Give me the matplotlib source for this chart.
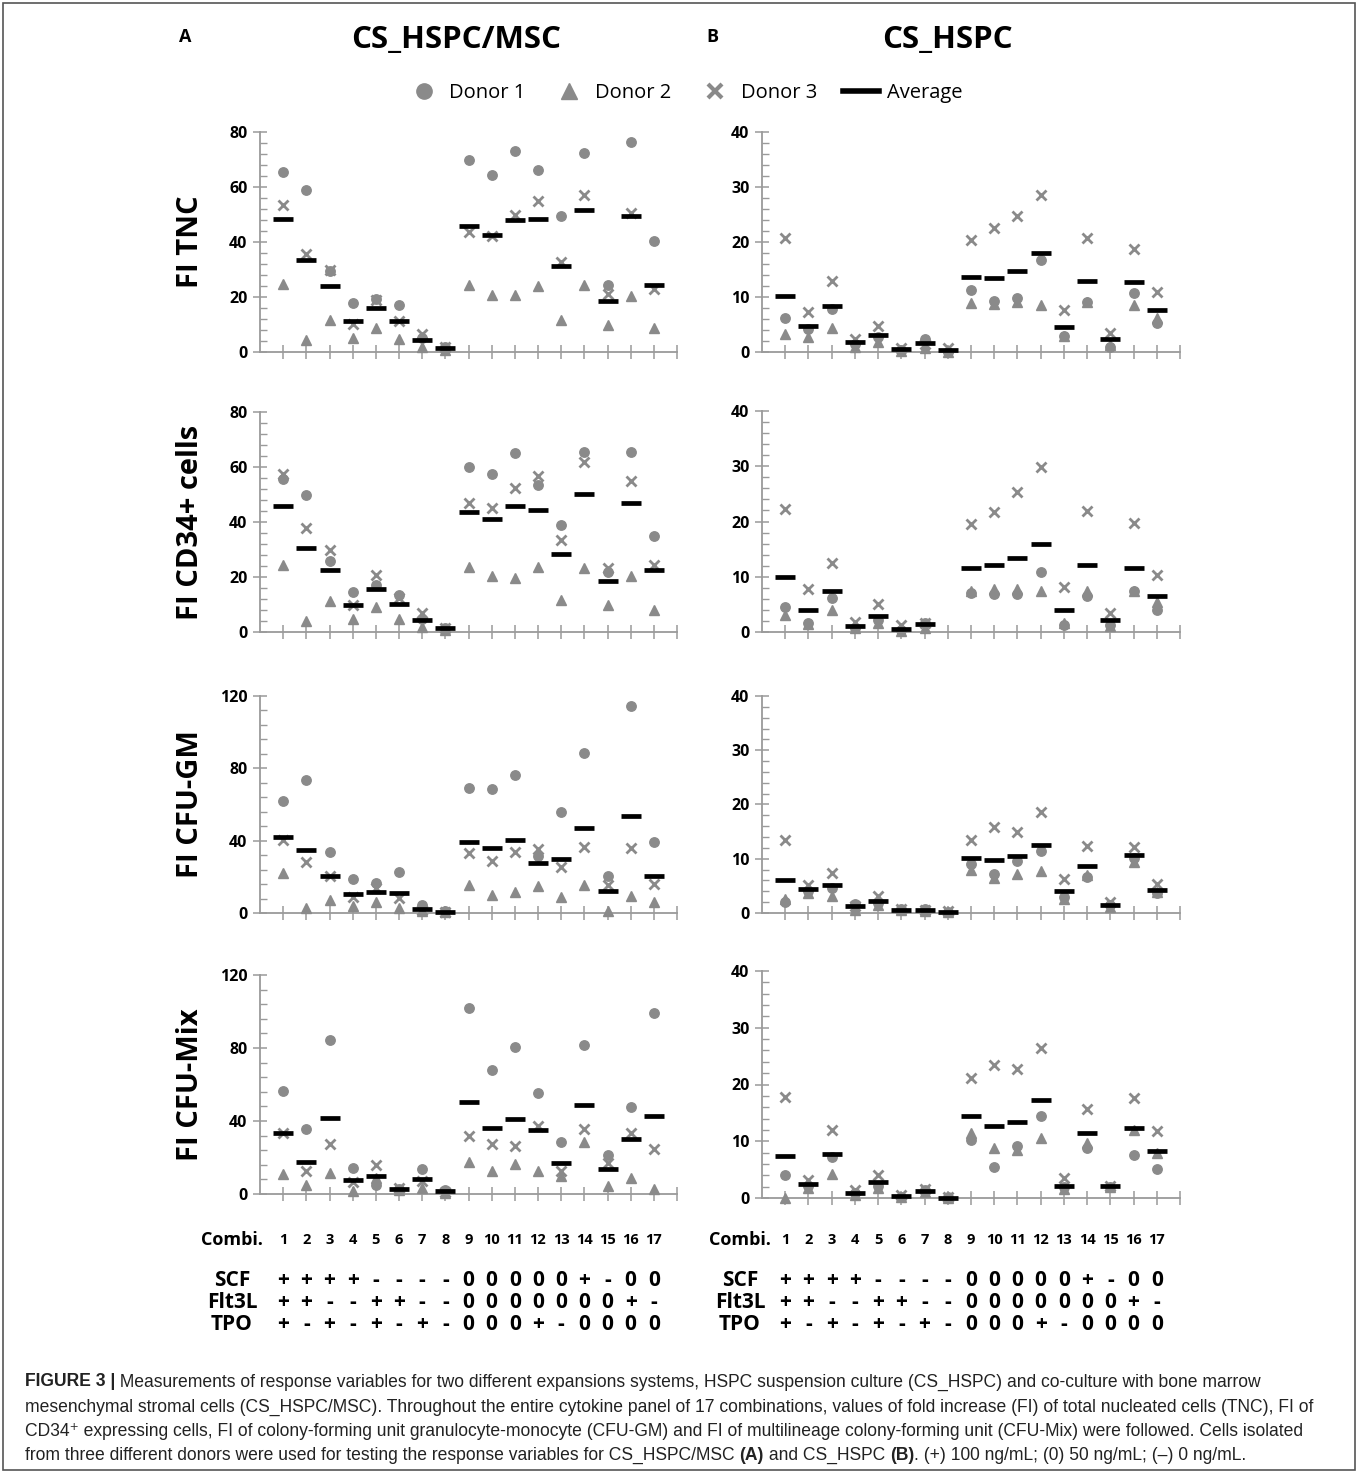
import numpy as np
import matplotlib
matplotlib.use("Agg")
import matplotlib.pyplot as plt
from matplotlib.lines import Line2D
from matplotlib.patches import Rectangle
from matplotlib.ticker import MultipleLocator
import matplotlib.transforms as mtransforms

# ---------------- data ----------------
combi = [str(i) for i in range(1, 18)]
scf   = ['+', '+', '+', '+', '-', '-', '-', '-', '0', '0', '0', '0', '0', '+', '-', '0', '0']
flt3l = ['+', '+', '-', '-', '+', '+', '-', '-', '0', '0', '0', '0', '0', '0', '0', '+', '-']
tpo   = ['+', '-', '+', '-', '+', '-', '+', '-', '0', '0', '0', '+', '-', '0', '0', '0', '0']

# (A) CS_HSPC/MSC  -- FI TNC
tnc_msc_d1  = [65.5, 58.9, 29.5, 17.7, 19.4, 17.1, 5.0, 2.0, 69.9, 64.4, 73.2, 66.2, 49.3, 72.5, 24.2, 76.4, 40.5]
tnc_msc_d2  = [24.7, 4.5, 11.8, 5.2, 8.7, 4.8, 2.0, 0.8, 24.2, 20.7, 20.6, 23.9, 11.8, 24.2, 9.9, 20.2, 8.7]
tnc_msc_d3  = [53.6, 35.6, 29.7, 10.2, 19.0, 11.4, 6.7, 1.7, 43.5, 42.3, 49.8, 54.8, 32.6, 57.2, 21.2, 50.5, 22.9]
tnc_msc_avg = [48.4, 33.3, 23.9, 11.2, 15.9, 11.3, 4.5, 1.6, 45.9, 42.7, 48.1, 48.4, 31.4, 51.6, 18.7, 49.3, 24.5]
# (B) CS_HSPC  -- FI TNC
tnc_hspc_d1  = [6.2, 4.2, 7.8, 1.5, 2.8, 0.4, 2.4, 0.0, 11.3, 9.2, 9.8, 16.8, 3.0, 9.1, 1.0, 10.7, 5.3]
tnc_hspc_d2  = [3.3, 2.7, 4.3, 0.9, 1.8, 0.2, 0.7, 0.0, 8.9, 8.7, 9.1, 8.5, 3.0, 9.1, 1.3, 8.6, 6.2]
tnc_hspc_d3  = [20.8, 7.2, 13.0, 2.4, 4.8, 0.8, 1.5, 0.8, 20.4, 22.5, 24.8, 28.6, 7.7, 20.7, 3.5, 18.8, 10.9]
tnc_hspc_avg = [10.2, 4.7, 8.4, 1.8, 3.1, 0.6, 1.6, 0.4, 13.6, 13.5, 14.7, 18.0, 4.5, 13.0, 2.4, 12.8, 7.6]

# (A) FI CD34+ cells
cd34_msc_d1  = [55.8, 49.7, 25.7, 14.5, 17.0, 13.6, 4.9, 1.5, 60.1, 57.5, 65.1, 53.5, 39.0, 65.3, 22.0, 65.3, 34.8]
cd34_msc_d2  = [24.2, 3.9, 11.3, 4.8, 9.0, 4.7, 1.7, 0.8, 23.5, 20.2, 19.6, 23.5, 11.8, 23.3, 9.7, 20.2, 8.1]
cd34_msc_d3  = [57.6, 37.8, 29.9, 9.7, 20.8, 12.2, 6.9, 1.3, 46.9, 45.1, 52.5, 56.8, 33.6, 61.8, 23.3, 54.8, 24.2]
cd34_msc_avg = [45.7, 30.5, 22.4, 9.7, 15.6, 10.2, 4.5, 1.3, 43.8, 41.1, 45.9, 44.5, 28.2, 50.2, 18.4, 46.8, 22.4]
# (B) FI CD34+ cells
cd34_hspc_d1  = [4.6, 1.7, 6.2, 0.7, 2.2, 0.4, 1.7, np.nan, 7.1, 6.9, 6.8, 10.9, 1.3, 6.5, 1.3, 7.4, 4.0]
cd34_hspc_d2  = [3.0, 1.5, 3.9, 0.8, 1.7, 0.2, 0.8, np.nan, 7.5, 7.7, 7.8, 7.5, 1.7, 7.5, 1.0, 7.4, 5.4]
cd34_hspc_d3  = [22.3, 7.8, 12.4, 1.9, 5.0, 1.2, 1.7, np.nan, 19.6, 21.7, 25.3, 29.9, 8.1, 21.9, 3.4, 19.7, 10.4]
cd34_hspc_avg = [10.0, 3.9, 7.5, 1.1, 2.9, 0.6, 1.4, np.nan, 11.5, 12.2, 13.4, 16.0, 3.9, 12.1, 2.2, 11.5, 6.6]

# (A) FI CFU-GM
gm_msc_d1  = [62.2, 73.8, 34.0, 19.0, 16.6, 22.5, 4.2, 0.9, 69.2, 68.7, 76.2, 31.3, 56.0, 88.7, 20.2, 114.5, 39.0]
gm_msc_d2  = [22.1, 2.8, 7.0, 3.7, 5.9, 2.6, 0.9, 0.5, 15.6, 9.8, 11.6, 15.1, 8.7, 15.6, 1.3, 9.6, 5.9]
gm_msc_d3  = [40.1, 28.3, 20.4, 8.8, 13.6, 8.3, 1.8, 0.5, 33.1, 28.9, 33.7, 35.5, 25.2, 36.4, 15.6, 35.9, 15.8]
gm_msc_avg = [42.0, 35.0, 20.6, 10.7, 11.8, 11.0, 2.2, 0.6, 39.2, 35.9, 40.5, 27.8, 30.0, 46.9, 12.3, 53.6, 20.2]
# (B) FI CFU-GM
gm_hspc_d1  = [2.0, 4.0, 4.7, 1.7, 1.8, 0.7, 0.7, 0.1, 9.1, 7.1, 9.6, 11.4, 3.0, 6.6, 1.4, 10.2, 3.6]
gm_hspc_d2  = [2.6, 3.6, 3.1, 0.5, 1.4, 0.5, 0.4, 0.1, 8.0, 6.5, 7.1, 7.8, 2.6, 7.0, 1.1, 9.4, 3.8]
gm_hspc_d3  = [13.4, 5.1, 7.4, 1.3, 3.1, 0.7, 0.6, 0.3, 13.5, 15.9, 15.0, 18.6, 6.2, 12.3, 2.0, 12.2, 5.3]
gm_hspc_avg = [6.0, 4.4, 5.1, 1.2, 2.2, 0.6, 0.5, 0.1, 10.2, 9.8, 10.5, 12.6, 4.0, 8.6, 1.5, 10.7, 4.3]

# (A) FI CFU-Mix
mix_msc_d1  = [56.6, 35.4, 84.6, 14.2, 5.1, 2.7, 13.9, 2.0, 101.7, 67.9, 80.5, 55.3, 28.3, 81.5, 21.2, 47.7, 99.2]
mix_msc_d2  = [11.0, 4.7, 11.5, 1.5, 8.6, 2.4, 3.3, 0.5, 17.5, 12.8, 16.4, 12.8, 10.0, 28.5, 4.6, 8.8, 2.7]
mix_msc_d3  = [33.4, 12.4, 27.6, 6.4, 16.1, 3.1, 6.9, 0.9, 32.0, 27.4, 26.1, 37.1, 12.8, 35.6, 17.0, 33.4, 24.7]
mix_msc_avg = [33.6, 17.7, 41.5, 7.7, 10.0, 2.9, 8.0, 1.5, 50.6, 36.2, 41.1, 35.3, 17.2, 48.8, 13.9, 30.1, 42.7]
# (B) FI CFU-Mix
mix_hspc_d1  = [4.0, 2.2, 7.2, 0.8, 2.2, 0.2, 1.4, 0.1, 10.3, 5.5, 9.2, 14.4, 1.9, 8.8, 1.9, 7.5, 5.1]
mix_hspc_d2  = [0.0, 1.8, 4.3, 0.5, 1.8, 0.2, 1.1, 0.0, 11.5, 8.8, 8.4, 10.5, 1.5, 9.7, 1.9, 12.0, 8.0]
mix_hspc_d3  = [17.8, 3.1, 12.0, 1.4, 4.1, 0.5, 1.6, 0.2, 21.1, 23.4, 22.7, 26.5, 3.5, 15.6, 2.2, 17.7, 11.8]
mix_hspc_avg = [7.4, 2.4, 7.8, 0.9, 2.8, 0.3, 1.3, 0.0, 14.4, 12.6, 13.4, 17.2, 2.1, 11.4, 2.1, 12.4, 8.3]

row_labels = ["FI TNC", "FI CD34+ cells", "FI CFU-GM", "FI CFU-Mix"]
legend_labels = ["Donor 1", "Donor 2", "Donor 3", "Average"]

# ---------------- figure ----------------
W, H = 1358, 1473
fig = plt.figure(figsize=(W / 100, H / 100), dpi=100)
FONT = ["Open Sans", "DejaVu Sans"]
plt.rcParams["font.family"] = FONT

GREY = "#8a8a8a"
AXC = "#9a9a9a"

def fx(px):
    return px / W

def fy(py):
    return 1 - py / H

colA = (260, 677)
colB = (762, 1180)
rowsA = [(132, 352), (412, 632), (696, 913), (975, 1194)]
rowsB = [(132, 352), (411, 632), (696, 913), (971, 1198)]

panel_data = [
    ((tnc_msc_d1, tnc_msc_d2, tnc_msc_d3, tnc_msc_avg, 80, 20, 4),
     (tnc_hspc_d1, tnc_hspc_d2, tnc_hspc_d3, tnc_hspc_avg, 40, 10, 2)),
    ((cd34_msc_d1, cd34_msc_d2, cd34_msc_d3, cd34_msc_avg, 80, 20, 4),
     (cd34_hspc_d1, cd34_hspc_d2, cd34_hspc_d3, cd34_hspc_avg, 40, 10, 2)),
    ((gm_msc_d1, gm_msc_d2, gm_msc_d3, gm_msc_avg, 120, 40, 8),
     (gm_hspc_d1, gm_hspc_d2, gm_hspc_d3, gm_hspc_avg, 40, 10, 2)),
    ((mix_msc_d1, mix_msc_d2, mix_msc_d3, mix_msc_avg, 120, 40, 8),
     (mix_hspc_d1, mix_hspc_d2, mix_hspc_d3, mix_hspc_avg, 40, 10, 2)),
]

x = np.arange(1, len(combi) + 1)


def draw_panel(ax, d1, d2, d3, avg, ymax, major, minor):
    ax.plot(x, d1, linestyle="none", marker="o", ms=6.8, color=GREY, mec=GREY, zorder=3)
    ax.plot(x, d2, linestyle="none", marker="^", ms=6.8, color=GREY, mec=GREY, zorder=3)
    ax.plot(x, d3, linestyle="none", marker="x", ms=6.8, mew=2.0, color=GREY, zorder=4)
    ax.plot(x, avg, linestyle="none", marker="_", ms=15, mew=3.4, color="black", zorder=5)
    ax.set_xlim(0, len(combi) + 1)
    ax.set_ylim(0, ymax)
    ax.set_xticks(np.arange(1, len(combi) + 2))
    ax.set_yticks(np.arange(0, ymax + 1, major))
    ax.yaxis.set_minor_locator(MultipleLocator(minor))
    for s in ["top", "right"]:
        ax.spines[s].set_visible(False)
    for s in ["left", "bottom"]:
        ax.spines[s].set_color(AXC)
        ax.spines[s].set_linewidth(1.3)
    ax.tick_params(axis="x", which="major", direction="inout", length=10, width=1.1,
                   color=AXC, labelbottom=False)
    ax.tick_params(axis="y", which="major", direction="inout", length=10, width=1.1,
                   color=AXC, labelsize=11.5, pad=4)
    ax.tick_params(axis="y", which="minor", direction="in", length=5, width=1.0, color=AXC)
    for lab in ax.get_yticklabels():
        lab.set_fontweight("bold")
    ax.patch.set_alpha(0)
    for ln in ax.lines:
        ln.set_clip_on(False)


axes = []
for r in range(4):
    ta, ba = rowsA[r]
    tb, bb = rowsB[r]
    axA = fig.add_axes([fx(colA[0]), fy(ba), fx(colA[1] - colA[0]), (ba - ta) / H])
    axB = fig.add_axes([fx(colB[0]), fy(bb), fx(colB[1] - colB[0]), (bb - tb) / H])
    draw_panel(axA, *panel_data[r][0])
    draw_panel(axB, *panel_data[r][1])
    fig.text(fx(190), fy((ta + ba) / 2), row_labels[r], rotation=90, ha="center",
             va="center", fontsize=21, fontweight="bold")
    axes.append((axA, axB))

# titles
fig.text(fx(456), fy(40), "CS_HSPC/MSC", ha="center", va="center", fontsize=22.5, fontweight="bold")
fig.text(fx(947), fy(40), "CS_HSPC", ha="center", va="center", fontsize=22.5, fontweight="bold")
fig.text(fx(185), fy(37), "A", ha="center", va="center", fontsize=13, fontweight="bold")
fig.text(fx(712), fy(37), "B", ha="center", va="center", fontsize=13, fontweight="bold")

# legend
handles = [
    Line2D([], [], linestyle="none", marker="o", ms=11, color=GREY),
    Line2D([], [], linestyle="none", marker="^", ms=11, color=GREY),
    Line2D([], [], linestyle="none", marker="x", ms=10, mew=3, color=GREY),
    Line2D([], [], color="black", lw=4),
]
fig.legend(handles, legend_labels, loc="center", bbox_to_anchor=(fx(684), fy(93)), ncol=4,
           frameon=False, fontsize=14.5, handlelength=1.75, columnspacing=1.3,
           handletextpad=0.4)

# combination table
axA4, axB4 = axes[3]
for ax, lab_x in [(axA4, 232), (axB4, 740)]:
    trans = mtransforms.blended_transform_factory(ax.transData, fig.transFigure)
    fig.text(fx(lab_x), fy(1240), "Combi.", ha="center", va="center",
             fontsize=13, fontweight="bold")
    for xi, c in zip(x, combi):
        ax.text(xi, fy(1240), c, transform=trans, ha="center", va="center",
                fontsize=10.5, fontweight="bold")
    for name, vals, yy in [("SCF", scf, 1280), ("Flt3L", flt3l, 1303), ("TPO", tpo, 1325)]:
        fig.text(fx(lab_x), fy(yy), name, ha="center", va="center",
                 fontsize=15, fontweight="bold")
        for xi, v in zip(x, vals):
            ax.text(xi, fy(yy), v, transform=trans, ha="center", va="center",
                    fontsize=15, fontweight="bold")

# caption
CAP_FONT = ["Liberation Sans", "DejaVu Sans"]
cap_lines = [
    [("FIGURE 3 |", "bold"),
     (" Measurements of response variables for two different expansions systems, HSPC suspension culture (CS_HSPC) and co-culture with bone marrow", "normal")],
    [("mesenchymal stromal cells (CS_HSPC/MSC). Throughout the entire cytokine panel of 17 combinations, values of fold increase (FI) of total nucleated cells (TNC), FI of", "normal")],
    [("CD34\u207a expressing cells, FI of colony-forming unit granulocyte-monocyte (CFU-GM) and FI of multilineage colony-forming unit (CFU-Mix) were followed. Cells isolated", "normal")],
    [("from three different donors were used for testing the response variables for CS_HSPC/MSC ", "normal"),
     ("(A)", "bold"), (" and CS_HSPC ", "normal"), ("(B)", "bold"),
     (". (+) 100 ng/mL; (0) 50 ng/mL; (\u2013) 0 ng/mL.", "normal")],
]
cap_y = [1382, 1407, 1431, 1455]
renderer = fig.canvas.get_renderer()
# scale caption font so the second line spans the same width as in the reference
probe = fig.text(0, 0, cap_lines[1][0][0], fontsize=10, family=CAP_FONT)
pw = probe.get_window_extent(renderer=renderer).width
probe.remove()
cap_size = 10 * (1322 - 25) / pw
for segs, yy in zip(cap_lines, cap_y):
    xpos = 25
    for txt, wt in segs:
        t = fig.text(fx(xpos), fy(yy), txt, ha="left", va="center", fontsize=cap_size,
                     fontweight=wt, family=CAP_FONT, color="#222222")
        bb = t.get_window_extent(renderer=renderer)
        xpos += bb.width

# frame
fig.patches.append(Rectangle((fx(3), fy(1470)), fx(1352), 1467 / H, transform=fig.transFigure,
                             fill=False, edgecolor="#555555", linewidth=1.2))

fig.savefig("out.png", dpi=100)
